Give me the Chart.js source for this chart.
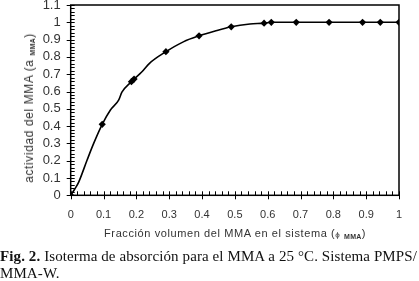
<!DOCTYPE html>
<html>
<head>
<meta charset="utf-8">
<script src="https://cdn.jsdelivr.net/npm/chart.js@4"></script>
<style>
  html, body { margin: 0; padding: 0; background: #fff; }
  #wrap { position: relative; width: 419px; height: 281px; overflow: hidden; }
  #chart { position: absolute; left: 0; top: 0; }
  .ttl { position: absolute; font-family: "Liberation Sans", Arial, sans-serif; color: #333;
         font-size: 11px; letter-spacing: 0.6px; white-space: nowrap; }
  .ttl sub { font-size: 7px; font-weight: bold; vertical-align: -2px; letter-spacing: 0.3px; }
  #xt { left: 0; width: 470px; top: 227px; text-align: center; }
  #yt { left: 29px; top: 108px; transform: translate(-50%, -50%) rotate(-90deg); font-size: 12px; }
  #cap { position: absolute; left: 0; top: 248px; font-family: "Liberation Serif", "Times New Roman", serif;
         font-size: 15px; letter-spacing: 0.1px; line-height: 17px; color: #111; white-space: nowrap; }
</style>
</head>
<body>
<div id="wrap">
  <canvas id="chart" width="419" height="240"></canvas>
  <div class="ttl" id="xt">Fracción volumen del MMA en el sistema (<span style="font-size:8px">ϕ</span> <sub>MMA</sub>)</div>
  <div class="ttl" id="yt">actividad del MMA (a <sub>MMA</sub>)</div>
  <div id="cap"><b>Fig. 2.</b> Isoterma de absorción para el MMA a 25 °C. Sistema PMPS/<br>MMA-W.</div>
</div>
<script>
// ── data ─────────────────────────────────────────────────────────
const markerX = [0, 0.096, 0.185, 0.193, 0.29, 0.391, 0.489, 0.589, 0.611, 0.687, 0.787, 0.889, 0.943, 1.0];
const markerY = [0, 0.41, 0.657, 0.672, 0.83, 0.922, 0.974, 0.995, 1, 1, 1, 1, 1, 1];

// smoothed curve as drawn (passes through the markers)
const curveX = [0, 0.012, 0.024, 0.05, 0.07, 0.096, 0.121, 0.146, 0.156, 0.185, 0.193, 0.217, 0.24, 0.29, 0.343, 0.391, 0.44, 0.489, 0.546, 0.589, 0.611, 0.687, 0.787, 0.889, 0.943, 1.0];
const curveY = [0, 0.035, 0.075, 0.204, 0.30, 0.41, 0.493, 0.55, 0.596, 0.657, 0.672, 0.714, 0.763, 0.83, 0.887, 0.922, 0.95, 0.974, 0.99, 0.995, 1, 1, 1, 1, 1, 1];

const xMin = 0, xMax = 1, xStep = 0.1;
const yMin = 0, yMax = 1.1, yStep = 0.1;
const minorStep = 0.02;

const fmt = v => String(Number(v.toFixed(2)));

// axis frame + major/minor tick marks
const frameTicks = {
  id: "frameTicks",
  afterDatasetsDraw(chart) {
    const { ctx, chartArea: a, scales: { x, y } } = chart;
    ctx.save();
    ctx.strokeStyle = "#000";
    ctx.lineWidth = 1;
    ctx.beginPath();
    const nx = Math.round((xMax - xMin) / minorStep);
    for (let i = 0; i <= nx; i++) {
      const px = Math.round(x.getPixelForValue(xMin + i * minorStep)) + 0.5;
      const major = i % 5 === 0;
      ctx.moveTo(px, a.bottom + (major ? 4 : 0));
      ctx.lineTo(px, a.bottom - 4);
    }
    const ny = Math.round((yMax - yMin) / minorStep);
    for (let i = 0; i <= ny; i++) {
      const py = Math.round(y.getPixelForValue(yMin + i * minorStep)) + 0.5;
      const major = i % 5 === 0;
      ctx.moveTo(a.left - (major ? 4 : 0), py);
      ctx.lineTo(a.left + 4, py);
    }
    ctx.stroke();
    // frame
    ctx.lineWidth = 1.5;
    ctx.strokeRect(a.left, a.top, a.right - a.left, a.bottom - a.top);
    ctx.restore();
  }
};

new Chart(document.getElementById("chart"), {
  type: "scatter",
  data: {
    datasets: [
      {
        data: curveX.map((v, i) => ({ x: v, y: curveY[i] })),
        showLine: true,
        borderColor: "#000",
        borderWidth: 1.6,
        pointRadius: 0,
        cubicInterpolationMode: "monotone",
      },
      {
        data: markerX.map((v, i) => ({ x: v, y: markerY[i] })),
        showLine: false,
        pointStyle: "rectRot",
        pointRadius: 3.6,
        backgroundColor: "#000",
        borderColor: "#000",
        borderWidth: 0,
      },
    ],
  },
  plugins: [frameTicks],
  options: {
    responsive: false,
    animation: false,
    layout: { padding: { top: 5, right: 20, left: 0, bottom: 0 } },
    plugins: { legend: { display: false }, tooltip: { enabled: false } },
    scales: {
      x: {
        type: "linear", min: xMin, max: xMax,
        afterFit: s => { s.height = 44.7; s.paddingLeft = 0; s.paddingRight = 0; },
        border: { display: false },
        grid: { display: false, drawTicks: false },
        ticks: {
          stepSize: xStep, padding: 13, color: "#333", maxRotation: 0, autoSkip: false,
          font: { family: "'Liberation Sans', Arial, sans-serif", size: 11 },
          callback: v => fmt(v),
        },
      },
      y: {
        type: "linear", min: yMin, max: yMax,
        afterFit: s => { s.width = 70.7; s.paddingTop = 0; s.paddingBottom = 0; },
        border: { display: false },
        grid: { display: false, drawTicks: false },
        ticks: {
          stepSize: yStep, padding: 10, color: "#333", autoSkip: false,
          font: { family: "'Liberation Sans', Arial, sans-serif", size: 13 },
          callback: v => fmt(v),
        },
      },
    },
  },
});
</script>
</body>
</html>
